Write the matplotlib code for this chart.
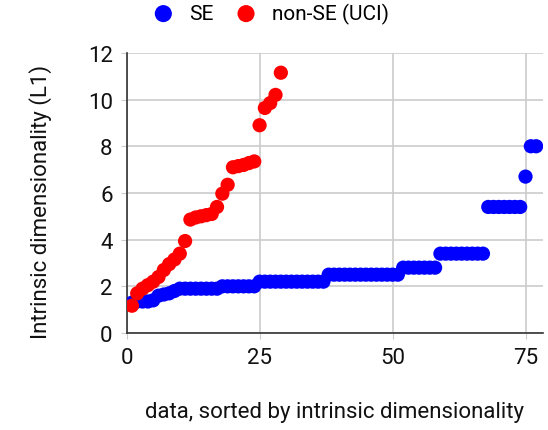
import matplotlib
matplotlib.use("Agg")
import matplotlib.pyplot as plt

plt.rcParams['font.family'] = ['Roboto', 'DejaVu Sans']

# data
se_values = [1.3, 1.35, 1.35, 1.35, 1.4, 1.6, 1.65, 1.7, 1.8,
             1.9, 1.9, 1.9, 1.9, 1.9, 1.9, 1.9, 1.9,
             2.0, 2.0, 2.0, 2.0, 2.0, 2.0, 2.0,
             2.2, 2.2, 2.2, 2.2, 2.2, 2.2, 2.2, 2.2, 2.2, 2.2, 2.2, 2.2, 2.2,
             2.5, 2.5, 2.5, 2.5, 2.5, 2.5, 2.5, 2.5, 2.5, 2.5, 2.5, 2.5, 2.5, 2.5,
             2.8, 2.8, 2.8, 2.8, 2.8, 2.8, 2.8,
             3.4, 3.4, 3.4, 3.4, 3.4, 3.4, 3.4, 3.4, 3.4,
             5.4, 5.4, 5.4, 5.4, 5.4, 5.4, 5.4,
             6.7, 8.0, 8.0]
uci_values = [1.17, 1.7, 1.9, 2.05, 2.2, 2.4, 2.7, 2.95, 3.15, 3.4, 3.94,
              4.86, 4.95, 5.0, 5.05, 5.1, 5.4, 5.97, 6.35,
              7.1, 7.15, 7.2, 7.28, 7.35,
              8.9, 9.64, 9.85, 10.2, 11.15]
se_x = list(range(1, len(se_values) + 1))
uci_x = list(range(1, len(uci_values) + 1))

xticks = [0, 25, 50, 75]
yticks = [0, 2, 4, 6, 8, 10, 12]

fig = plt.figure(figsize=(5.48, 4.31), dpi=100)
ax = fig.add_axes([0.231, 0.225, 0.760, 0.650])

ax.scatter(se_x, se_values, s=105, color='#0000ff', edgecolors='none', label='SE', zorder=3)
ax.scatter(uci_x, uci_values, s=105, color='#ff0000', edgecolors='none', label='non-SE (UCI)', zorder=4)

ax.set_xlim(0, 78.3)
ax.set_ylim(0, 12)
ax.set_xticks(xticks)
ax.set_yticks(yticks)
ax.grid(True, color='#cccccc', linewidth=1.2, zorder=0)
ax.set_axisbelow(True)
for side in ['top', 'right']:
    ax.spines[side].set_visible(False)
for side in ['left', 'bottom']:
    ax.spines[side].set_color('#333333')
    ax.spines[side].set_linewidth(1.2)
ax.tick_params(axis='both', length=4, color='#cccccc', labelsize=16, labelcolor='#111111')
ax.tick_params(axis='y', pad=6)
ax.tick_params(axis='x', pad=6)

ax.set_ylabel('Intrinsic dimensionality (L1)', fontsize=16, color='#111111', labelpad=33)
ax.yaxis.set_label_coords(-0.178, 0.47)
ax.set_xlabel('data, sorted by intrinsic dimensionality', fontsize=16, color='#111111', labelpad=24)

fig.legend(loc='center', bbox_to_anchor=(0.485, 0.967), ncol=2, frameon=False,
           fontsize=15, markerscale=1.2, handletextpad=0.25, columnspacing=0.55)

fig.savefig('out.png', dpi=100)
